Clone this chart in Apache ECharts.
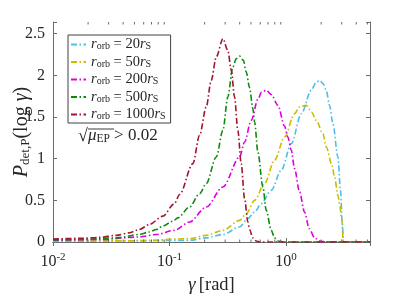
<!DOCTYPE html>
<html><head><meta charset="utf-8">
<script src="https://cdn.jsdelivr.net/npm/echarts@6/dist/echarts.min.js"></script>
<style>html,body{margin:0;padding:0;background:#fff}#c{width:409px;height:294px}</style>
</head><body><div id="c"></div>
<script>
// ---- data (gamma [rad], P_det,P) ----
const legendNames = ['20', '50', '200', '500', '1000'];
const seriesColors = ['#4DBEEE', '#C8BE00', '#DD00DD', '#0A8C0A', '#A2142F'];
const xMin = 0.01, xMax = 5.25;
const yMin = 0, yMax = 2.64, yStep = 0.5;
const majorXTicks = [0.01, 0.1, 1];
const minorXTicks = [0.02,0.03,0.04,0.05,0.06,0.07,0.08,0.09,0.2,0.3,0.4,0.5,0.6,0.7,0.8,0.9,2,3,4,5];

const r20 = [[0.01,0.005],[0.1486,0.02],[0.2065,0.05],[0.2871,0.09],[0.399,0.18],[0.47,0.28],[0.537,0.36],[0.6124,0.46],[0.7464,0.62],[0.9099,0.86],[1.109,1.18],[1.352,1.54],[1.644,1.82],[1.80,1.91],[1.941,1.94],[2.08,1.90],[2.213,1.82],[2.36,1.64],[2.523,1.42],[2.786,1.02],[2.93,0.62],[3.04,0.22],[3.1,0],[5.25,0]];
const r50 = [[0.01,0.01],[0.055,0.015],[0.1486,0.04],[0.2065,0.08],[0.2871,0.14],[0.399,0.26],[0.455,0.34],[0.537,0.50],[0.6531,0.70],[0.7962,0.98],[0.9705,1.26],[1.183,1.54],[1.30,1.62],[1.489,1.64],[1.65,1.56],[1.816,1.46],[2.07,1.30],[2.213,1.14],[2.48,0.92],[2.606,0.78],[2.786,0.56],[2.877,0.46],[3.0,0.28],[3.1,0],[5.25,0]];
const r200 = [[0.01,0.02],[0.025,0.03],[0.055,0.06],[0.077,0.09],[0.11,0.14],[0.1486,0.24],[0.2065,0.42],[0.2871,0.66],[0.399,1.02],[0.4406,1.20],[0.5023,1.46],[0.5728,1.71],[0.617,1.80],[0.6761,1.82],[0.7464,1.77],[0.8511,1.64],[0.9705,1.39],[1.035,1.26],[1.109,1.10],[1.183,0.88],[1.306,0.60],[1.44,0.36],[1.58,0.16],[1.758,0.05],[1.941,0.01],[2.21,0],[5.25,0]];
const r500 = [[0.01,0.025],[0.018,0.03],[0.035,0.05],[0.055,0.09],[0.067,0.12],[0.077,0.15],[0.0875,0.19],[0.1067,0.25],[0.1178,0.29],[0.1486,0.42],[0.1811,0.58],[0.2065,0.70],[0.2518,1.02],[0.2871,1.34],[0.3162,1.74],[0.3491,2.10],[0.374,2.20],[0.399,2.23],[0.43,2.18],[0.455,2.04],[0.4864,1.85],[0.5188,1.60],[0.537,1.44],[0.5728,1.08],[0.6324,0.66],[0.6761,0.38],[0.7464,0.14],[0.7962,0.05],[0.851,0.012],[0.97,0],[5.25,0]];
const r1000 = [[0.01,0.035],[0.018,0.045],[0.025,0.055],[0.035,0.08],[0.045,0.11],[0.055,0.15],[0.067,0.21],[0.0875,0.31],[0.11,0.46],[0.122,0.57],[0.1585,0.94],[0.1811,1.28],[0.2065,1.62],[0.228,1.94],[0.2518,2.22],[0.2871,2.44],[0.3162,2.30],[0.3388,2.06],[0.3614,1.74],[0.3855,1.34],[0.4121,0.94],[0.4406,0.52],[0.47,0.24],[0.4864,0.15],[0.5188,0.05],[0.5546,0.012],[0.5929,0],[5.25,0]];
const seriesData = [r20, r50, r200, r500, r1000];

const FONT = "'Liberation Serif', 'DejaVu Serif', serif";
const TXT = '#262626';
const AX = '#6b6b6b';

const chart = echarts.init(document.getElementById('c'), null, {renderer: 'canvas'});

const supRich = {
  b: {fontFamily: FONT, fontSize: 16, color: TXT, lineHeight: 20},
  s: {fontFamily: FONT, fontSize: 11, color: TXT, verticalAlign: 'top'}
};

function xAx(pos, showLabel) {
  return {
    type: 'log', logBase: 10, min: xMin, max: xMax, position: pos,
    axisLine: {show: true, lineStyle: {color: AX, width: 1}},
    axisTick: {show: true, inside: true, length: 4, lineStyle: {color: AX}},
    minorTick: {show: false},
    splitLine: {show: false},
    axisLabel: showLabel ? {
      show: true, margin: 10, fontFamily: FONT,
      formatter: v => {
        const e = Math.round(Math.log10(v));
        return majorXTicks.some(t => Math.abs(Math.log10(t) - e) < 1e-6) ? '{b|10}{s|' + e + '}' : '';
      },
      rich: supRich
    } : {show: false},
    name: showLabel ? '{i|γ} {t|[rad]}' : '',
    nameLocation: 'middle', nameGap: 34, nameMoveOverlap: false,
    nameTextStyle: {rich: {
      i: {fontFamily: FONT, fontSize: 18.5, fontStyle: 'italic', color: TXT},
      t: {fontFamily: FONT, fontSize: 18.5, color: TXT}
    }}
  };
}
function yAx(pos, showLabel) {
  return {
    type: 'value', min: yMin, max: yMax, interval: yStep, position: pos,
    axisLine: {show: true, lineStyle: {color: AX, width: 1}},
    axisTick: {show: true, inside: true, length: 4, lineStyle: {color: AX}},
    splitLine: {show: false},
    axisLabel: showLabel ? {
      show: true, margin: 8, fontFamily: FONT, fontSize: 16, color: TXT,
      formatter: v => (v > yMax - 0.01 && v % yStep !== 0) ? '' : String(v)
    } : {show: false},
    name: showLabel ? '{i|P}{s|det,P}{t|(log }{i|γ}{t|)}' : '',
    nameLocation: 'middle', nameGap: 21, nameMoveOverlap: false,
    nameTextStyle: {rich: {
      i: {fontFamily: FONT, fontSize: 20, fontStyle: 'italic', color: TXT},
      t: {fontFamily: FONT, fontSize: 20, color: TXT},
      s: {fontFamily: FONT, fontSize: 13, color: TXT, verticalAlign: 'bottom'}
    }}
  };
}

const dash = [6, 2.5, 1.5, 2.5];
const lineSeries = seriesData.map((d, i) => ({
  name: legendNames[i], type: 'line', data: d, xAxisIndex: 0, yAxisIndex: 0,
  showSymbol: false, symbol: 'none', smooth: 0.3, smoothMonotone: 'x',
  lineStyle: {color: seriesColors[i], width: 1.6, type: dash},
  itemStyle: {color: seriesColors[i]},
  z: 3 + i, animation: false
}));

const tickSeries = {
  type: 'custom', xAxisIndex: 0, yAxisIndex: 0, silent: true, animation: false, z: 10,
  data: minorXTicks.map(t => [t, 0]),
  renderItem: (params, api) => {
    const x = api.coord([api.value(0), 0])[0];
    const cs = params.coordSys;
    const st = {stroke: AX, lineWidth: 1};
    return {type: 'group', children: [
      {type: 'line', shape: {x1: x, y1: cs.y + cs.height, x2: x, y2: cs.y + cs.height - 2.5}, style: st},
      {type: 'line', shape: {x1: x, y1: cs.y, x2: x, y2: cs.y + 2.5}, style: st}
    ]};
  }
};

const legRich = {
  i: {fontFamily: FONT, fontSize: 14.5, fontStyle: 'italic', color: TXT, lineHeight: 14},
  s: {fontFamily: FONT, fontSize: 10, color: TXT, verticalAlign: 'bottom', lineHeight: 14},
  t: {fontFamily: FONT, fontSize: 14.5, color: TXT, lineHeight: 14}
};

chart.setOption({
  animation: false,
  backgroundColor: '#fff',
  grid: {left: 53, top: 22, width: 317, height: 220, containLabel: false, outerBoundsMode: 'none'},
  xAxis: [xAx('bottom', true), xAx('top', false)],
  yAxis: [yAx('left', true), yAx('right', false)],
  legend: {
    orient: 'vertical', left: 68, top: 35, padding: [2, 5, 1, 2], itemGap: 2.5,
    itemWidth: 15, itemHeight: 2, backgroundColor: '#fff',
    borderColor: '#404040', borderWidth: 1, borderRadius: 0,
    data: legendNames, selectedMode: false,
    itemStyle: {opacity: 0, borderWidth: 0},
    formatter: n => '{i|r}{s|orb}{t| = ' + n + '}{i|r}{s|S}',
    textStyle: {fontFamily: FONT, fontSize: 14.5, lineHeight: 14, rich: legRich}
  },
  graphic: [
    {type: 'text', left: 78, top: 127, z: 20,
      style: {text: '{r|√}{i|μ}{s|EP}{t| > 0.02}', rich: {
        r: {fontFamily: FONT, fontSize: 18, fill: TXT},
        i: {fontFamily: FONT, fontSize: 17, fontStyle: 'italic', fill: TXT},
        s: {fontFamily: FONT, fontSize: 11.5, fill: TXT, verticalAlign: 'bottom'},
        t: {fontFamily: FONT, fontSize: 17, fill: TXT}
      }}},
    {type: 'line', z: 20, shape: {x1: 88, y1: 129, x2: 114, y2: 129}, style: {stroke: TXT, lineWidth: 0.9}}
  ],
  series: [...lineSeries, tickSeries]
});
</script>
</body></html>
